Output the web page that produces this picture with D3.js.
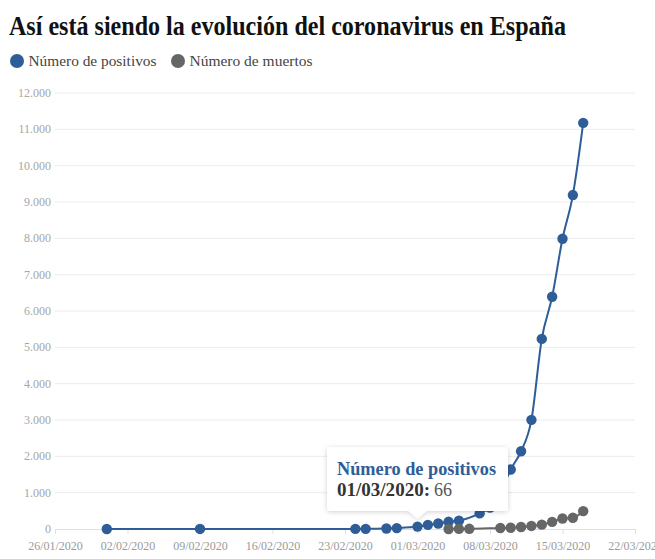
<!DOCTYPE html>
<html><head><meta charset="utf-8">
<script src="https://cdn.jsdelivr.net/npm/d3@7"></script>
<style>
html,body{margin:0;padding:0;background:#fff;}
svg{display:block;}
text{font-family:"Liberation Serif","DejaVu Serif",serif;}
</style></head>
<body>
<svg id="chart" width="655" height="559"></svg>
<script>
// ---- data ----
const title = "Así está siendo la evolución del coronavirus en España";
const seriesNames = ["Número de positivos", "Número de muertos"];
const positivosDates = ["2020-01-31","2020-02-09","2020-02-24","2020-02-25","2020-02-27","2020-02-28","2020-03-01","2020-03-02","2020-03-03","2020-03-04","2020-03-05","2020-03-07","2020-03-08","2020-03-09","2020-03-10","2020-03-11","2020-03-12","2020-03-13","2020-03-14","2020-03-15","2020-03-16","2020-03-17"];
const positivosValues = [1,2,3,4,15,25,66,114,151,198,230,430,589,999,1639,2140,3004,5232,6391,7988,9191,11178];
const muertosDates = ["2020-03-04","2020-03-05","2020-03-06","2020-03-09","2020-03-10","2020-03-11","2020-03-12","2020-03-13","2020-03-14","2020-03-15","2020-03-16","2020-03-17"];
const muertosValues = [1,3,5,28,35,54,84,120,196,288,309,491];
const yTicks = [0,1000,2000,3000,4000,5000,6000,7000,8000,9000,10000,11000,12000];
const xTickDates = ["2020-01-26","2020-02-02","2020-02-09","2020-02-16","2020-02-23","2020-03-01","2020-03-08","2020-03-15","2020-03-22"];
const tooltipDate = "2020-03-01";
const tooltipValue = 66;
const colors = ["#2e5d98", "#666666"];

// ---- setup ----
const parse = d3.utcParse("%Y-%m-%d");
const fmtDate = d3.utcFormat("%d/%m/%Y");
const loc = d3.formatLocale({decimal:",", thousands:".", grouping:[3], currency:["","€"]});
const fmtNum = loc.format(",d");

const svg = d3.select("#chart");
const x = d3.scaleUtc().domain([parse("2020-01-26"), parse("2020-03-22")]).range([55, 635]);
const y = d3.scaleLinear().domain([0, 12000]).range([529, 93]);

// title
svg.append("text").attr("x", 9).attr("y", 35)
  .attr("font-size", 28).attr("font-weight", "bold").attr("fill", "#111")
  .attr("textLength", 557).attr("lengthAdjust", "spacingAndGlyphs")
  .text(title);

// legend
const legendX = [17, 178];
const legendW = [128, 123];
seriesNames.forEach((n, i) => {
  svg.append("circle").attr("cx", legendX[i]).attr("cy", 61).attr("r", 7).attr("fill", colors[i]);
  svg.append("text").attr("x", legendX[i] + 11.5).attr("y", 66).attr("font-size", 15)
    .attr("fill", "#444").attr("textLength", legendW[i]).attr("lengthAdjust", "spacingAndGlyphs").text(n);
});

// grid
svg.append("g").selectAll("line").data(yTicks.filter(d => d > 0)).join("line")
  .attr("x1", 55).attr("x2", 635).attr("y1", d => y(d)).attr("y2", d => y(d))
  .attr("stroke", "#ececec").attr("stroke-width", 1);

// y axis labels
svg.append("g").selectAll("text").data(yTicks).join("text")
  .attr("x", 51).attr("y", d => y(d) + 4).attr("text-anchor", "end")
  .attr("font-size", 12).attr("fill", "#a6a6a6").text(d => fmtNum(d));

// x axis
const xAxis = d3.axisBottom(x).tickValues(xTickDates.map(parse)).tickFormat(fmtDate).tickSize(5).tickSizeOuter(0);
const gx = svg.append("g").attr("transform", "translate(0,529)").call(xAxis);
gx.select(".domain").attr("stroke", "#e0e0e0");
gx.selectAll(".tick line").attr("stroke", "#e0e0e0");
gx.selectAll(".tick text").attr("font-size", 12).attr("fill", "#9a9a9a")
  .attr("font-family", '"Liberation Serif", serif').attr("dy", "1.05em");

// series
const seriesData = [
  positivosDates.map((d, i) => ({date: parse(d), value: positivosValues[i]})),
  muertosDates.map((d, i) => ({date: parse(d), value: muertosValues[i]}))
];
const line = d3.line().x(d => x(d.date)).y(d => y(d.value)).curve(d3.curveMonotoneX);
seriesData.forEach((data, i) => {
  const g = svg.append("g");
  g.append("path").datum(data).attr("d", line).attr("fill", "none")
    .attr("stroke", colors[i]).attr("stroke-width", 2);
  g.selectAll("circle").data(data).join("circle")
    .attr("cx", d => x(d.date)).attr("cy", d => y(d.value)).attr("r", 5.2).attr("fill", colors[i]);
});

// tooltip
const defs = svg.append("defs");
const f = defs.append("filter").attr("id", "sh").attr("x", "-20%").attr("y", "-20%").attr("width", "140%").attr("height", "150%");
f.append("feDropShadow").attr("dx", 0).attr("dy", 1).attr("stdDeviation", 2.5).attr("flood-color", "#000").attr("flood-opacity", 0.18);

const tx = x(parse(tooltipDate));
const ty = y(tooltipValue);
const bx = 327, by = 447, bw = 181, bh = 64, r = 3;
const tipY = ty - 8;
const path = `M${bx + r},${by} H${bx + bw - r} Q${bx + bw},${by} ${bx + bw},${by + r} V${by + bh - r} Q${bx + bw},${by + bh} ${bx + bw - r},${by + bh} H${tx + 9} L${tx},${tipY} L${tx - 9},${by + bh} H${bx + r} Q${bx},${by + bh} ${bx},${by + bh - r} V${by + r} Q${bx},${by} ${bx + r},${by} Z`;
svg.append("path").attr("d", path).attr("fill", "#fff").attr("filter", "url(#sh)");
svg.append("text").attr("x", bx + 10).attr("y", 474.5).attr("font-size", 18).attr("font-weight", "bold")
  .attr("fill", colors[0]).attr("textLength", 159).attr("lengthAdjust", "spacingAndGlyphs").text(seriesNames[0]);
svg.append("text").attr("x", bx + 10).attr("y", 496).attr("font-size", 18).attr("font-weight", "bold")
  .attr("fill", "#333").attr("textLength", 93).attr("lengthAdjust", "spacingAndGlyphs").text(fmtDate(parse(tooltipDate)) + ":");
svg.append("text").attr("x", 434).attr("y", 496).attr("font-size", 18)
  .attr("fill", "#555").text(fmtNum(tooltipValue));
</script>
</body></html>
